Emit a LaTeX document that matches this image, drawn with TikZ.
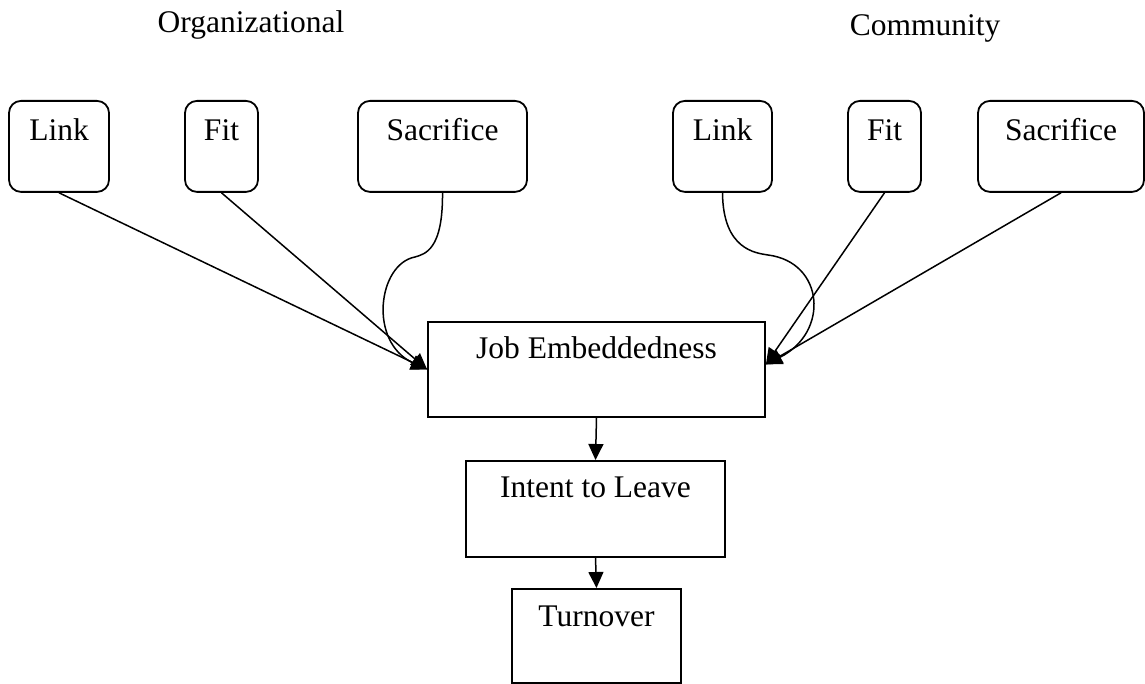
\documentclass[tikz,border=0pt]{standalone}
\usepackage{fontspec}
\setmainfont{Liberation Serif}
\usetikzlibrary{positioning,arrows.meta}

\begin{document}
\begin{tikzpicture}[x=1pt,y=-1pt,font=\fontsize{31.5}{38}\selectfont,
    >={Triangle[length=16pt,width=15pt]},
    facet/.style={draw,line width=1.8pt,rounded corners=12pt,anchor=north,
      inner xsep=0pt,inner ysep=0pt,text height=40pt,text depth=51pt},
    stage/.style={draw,line width=1.8pt,anchor=north,
      inner xsep=0pt,inner ysep=0pt,text height=37pt,text depth=58pt},
    conn/.style={line width=1.5pt,->}]
    \useasboundingbox (0,0) rectangle (1145,684);

    % Ueberschriften
    \node[anchor=base] (orgT) at (251,33) {Organizational};
    \node[anchor=base] (comT) at (925,36) {Community};

    % Facetten
    \node[facet,minimum width=100pt] (linkO) at (59,100) {Link};
    \node[facet,minimum width=73pt] (fitO) at (221.5,100) {Fit};
    \node[facet,minimum width=169pt] (sacO) at (442.5,100) {Sacrifice};
    \node[facet,minimum width=99pt] (linkC) at (722.5,100) {Link};
    \node[facet,minimum width=73pt] (fitC) at (884.5,100) {Fit};
    \node[facet,minimum width=166pt] (sacC) at (1061,100) {Sacrifice};

    % Kette
    \node[stage,minimum width=337pt] (job) at (596.5,321) {Job Embeddedness};
    \node[stage,minimum width=259pt,text depth=59pt] (intent) at (595.5,460) {Intent to Leave};
    \node[stage,minimum width=169pt,text height=38pt,text depth=56pt] (turn) at (596.5,588) {Turnover};

    % Pfeile links
    \draw[conn] (linkO.south) -- (job.west);
    \draw[conn] (fitO.south) -- (job.west);
    \draw[conn] (sacO.south) .. controls (443,250) and (425,254) .. (415,257)
      .. controls (378,264) and (368,342) .. (job.west);

    % Pfeile rechts
    \draw[conn] (linkC.south) .. controls (723,250) and (756,253) .. (768,255)
      .. controls (824,262) and (830,332) .. ([yshift=5pt]job.east);
    \draw[conn] (fitC.south) -- ([yshift=5pt]job.east);
    \draw[conn] (sacC.south) -- ([yshift=5pt]job.east);

    \draw[conn] (job.south) -- (intent.north);
    \draw[conn] (intent.south) -- (turn.north);
\end{tikzpicture}
\end{document}
